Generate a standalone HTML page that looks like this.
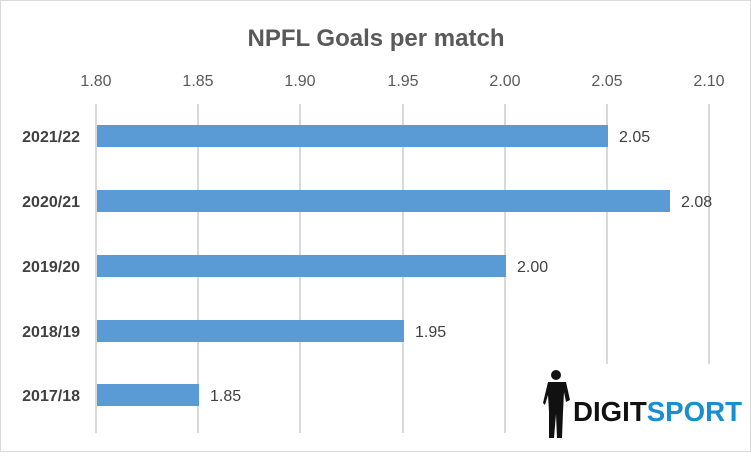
<!DOCTYPE html>
<html><head><style>
body{margin:0;width:751px;height:452px;overflow:hidden;background:#fff;font-family:"Liberation Sans",sans-serif}
</style></head><body>
<svg width="751" height="452" xmlns="http://www.w3.org/2000/svg">
<rect x="0.5" y="0.5" width="750" height="451" fill="#fff" stroke="#d9d9d9"/>
<text x="376" y="46" text-anchor="middle" font-size="24" font-weight="bold" fill="#595959" font-family="Liberation Sans">NPFL Goals per match</text>
<g stroke="#d9d9d9" stroke-width="2">
<line x1="96" y1="104" x2="96" y2="433"/><line x1="198" y1="104" x2="198" y2="433"/>
<line x1="300" y1="104" x2="300" y2="433"/><line x1="403" y1="104" x2="403" y2="433"/>
<line x1="505" y1="104" x2="505" y2="433"/><line x1="607" y1="104" x2="607" y2="433"/>
<line x1="709" y1="104" x2="709" y2="433"/>
</g>
<g font-size="16" fill="#595959" text-anchor="middle">
<text x="96" y="86">1.80</text><text x="198" y="86">1.85</text><text x="300" y="86">1.90</text>
<text x="403" y="86">1.95</text><text x="505" y="86">2.00</text><text x="607" y="86">2.05</text><text x="709" y="86">2.10</text>
</g>
<g fill="#5b9bd5">
<rect x="97" y="125" width="511" height="22"/>
<rect x="97" y="190" width="573" height="22"/>
<rect x="97" y="255" width="409" height="22"/>
<rect x="97" y="320" width="307" height="22"/>
<rect x="97" y="384" width="102" height="22"/>
</g>
<g font-size="16" fill="#404040">
<text x="619" y="142">2.05</text><text x="681" y="207">2.08</text><text x="517" y="272">2.00</text>
<text x="415" y="337">1.95</text><text x="210" y="401">1.85</text>
</g>
<g font-size="16" font-weight="bold" fill="#404040" text-anchor="end">
<text x="80" y="142">2021/22</text><text x="80" y="207">2020/21</text><text x="80" y="272">2019/20</text>
<text x="80" y="337">2018/19</text><text x="80" y="401">2017/18</text>
</g>
<rect x="540" y="364" width="210" height="77" fill="#fff"/>
<g fill="#111">
<circle cx="556" cy="375" r="5"/>
<path d="M548 382 L566 382 L570 400 L566 402 L564 392 L563 412 L562 438 L557 438 L556 414 L554 438 L549 438 L549 412 L548 395 L545 405 L543 403 Z"/>
</g>
<text x="573" y="421" font-size="28" font-weight="bold" fill="#111" textLength="169" lengthAdjust="spacingAndGlyphs">DIGIT<tspan fill="#1a8fd0">SPORT</tspan></text>
</svg>
</body></html>
